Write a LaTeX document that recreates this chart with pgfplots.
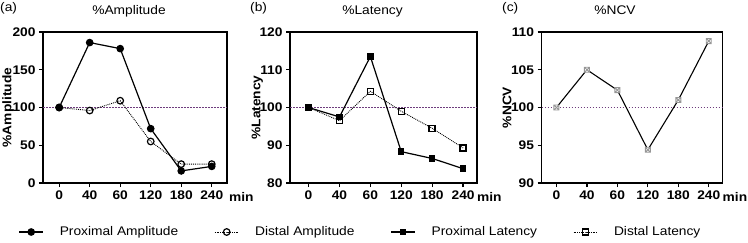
\documentclass[border=0pt]{standalone}
\usepackage{fontspec}
\setmainfont{Liberation Sans}[FakeStretch=1.1]
\usepackage{pgfplots}
\pgfplotsset{compat=1.18}
\definecolor{refline}{RGB}{110,60,125}
\definecolor{markgray}{RGB}{150,150,150}
\pgfdeclareplotmark{boxx}{%
  \pgfpathrectangle{\pgfqpoint{-\pgfplotmarksize}{-\pgfplotmarksize}}{\pgfqpoint{2\pgfplotmarksize}{2\pgfplotmarksize}}%
  \pgfpathmoveto{\pgfqpoint{-\pgfplotmarksize}{-\pgfplotmarksize}}%
  \pgfpathlineto{\pgfqpoint{\pgfplotmarksize}{\pgfplotmarksize}}%
  \pgfpathmoveto{\pgfqpoint{-\pgfplotmarksize}{\pgfplotmarksize}}%
  \pgfpathlineto{\pgfqpoint{\pgfplotmarksize}{-\pgfplotmarksize}}%
  \pgfusepathqfillstroke}
\pgfplotsset{
  panel/.style={
    scale only axis,
    height=151pt,
    anchor=south west,
    axis line style={line width=1.2pt},
    tick style={black, line width=1.2pt},
    tick align=outside,
    major tick length=4pt,
    xtick pos=bottom, ytick pos=left,
    xtick={0,1,2,3,4,5},
    xticklabels={0,40,60,120,180,240},
    /pgf/number format/assume math mode=true,
    ticklabel style={font=\fontsize{12.5}{14}\selectfont\bfseries},
    label style={font=\fontsize{12.5}{14}\selectfont\bfseries},
    title style={font=\fontsize{12.5}{14}\selectfont, at={(0.5,1)}, anchor=base, yshift=12pt},
    clip=false,
  },
  refstyle/.style={draw=refline, line width=1.3pt, dash pattern=on 1.6pt off 1.4pt},
  legend image code/.code={\draw[mark repeat=2,mark phase=2] plot coordinates {(0pt,0pt) (12pt,0pt) (24pt,0pt)};},
}
\begin{document}
\begin{tikzpicture}
\useasboundingbox (0pt,0pt) rectangle (748pt,242pt);
\node[anchor=base west, font=\fontsize{12.5}{14}\selectfont, inner sep=0pt] at (0pt,231pt) {(a)};
\node[anchor=base west, font=\fontsize{12.5}{14}\selectfont, inner sep=0pt] at (250pt,231pt) {(b)};
\node[anchor=base west, font=\fontsize{12.5}{14}\selectfont, inner sep=0pt] at (502pt,231pt) {(c)};

% (a)
\begin{axis}[panel, at={(43pt,59pt)}, width=184pt,
  xmin=-0.53, xmax=5.5, ymin=0, ymax=200, ytick={0,50,100,150,200},
  title={\%Amplitude}, title style={xshift=-6pt},
  ylabel={\%Amplitude}, ylabel style={at={(axis description cs:-0.19,0.5)}, anchor=center},
  legend columns=4,
  legend style={draw=none, fill=none, at={(axis description cs:1.7255,-0.3245)}, anchor=center,
    font=\fontsize{12.5}{14}\selectfont, inner sep=0pt,
    /tikz/every odd column/.append style={column sep=14pt},
    /tikz/every even column/.append style={column sep=34pt}},
  legend cell align=left,
]
\addplot[refstyle, forget plot] coordinates {(-0.53,100) (5.5,100)};
\addplot[black, line width=1.2pt, mark=*, mark size=3.2pt] coordinates {
(0,100) (1,186) (2,178) (3,72) (4,16) (5,22)};
\addlegendentry{Proximal Amplitude}
\addplot[black, densely dotted, line width=0.9pt, mark=o, mark size=3.3pt, mark options={solid, fill=white, line width=1.2pt}] coordinates {
(0,100) (1,96) (2,109) (3,55) (4,25) (5,25)};
\addlegendentry{Distal Amplitude}
\addlegendimage{black, line width=1.2pt, mark=square*, mark size=2.6pt}
\addlegendentry{Proximal Latency}
\addlegendimage{black, densely dotted, line width=0.9pt, mark=square, mark size=3pt, mark options={solid, fill=white, line width=1.4pt}}
\addlegendentry{Distal Latency}
\node[anchor=base west, font=\fontsize{12.5}{14}\selectfont\bfseries, inner sep=0pt] at (rel axis cs:1,0) [xshift=2pt, yshift=-18pt] {min};
\end{axis}

% (b)
\begin{axis}[panel, at={(290pt,59pt)}, width=187pt,
  xmin=-0.6, xmax=5.45, ymin=80, ymax=120, ytick={80,90,100,110,120},
  title={\%Latency}, title style={xshift=-11pt},
  ylabel={\%Latency}, ylabel style={at={(axis description cs:-0.175,0.5)}, anchor=center},
]
\addplot[refstyle] coordinates {(-0.6,100) (5.45,100)};
\addplot[black, line width=1.2pt, mark=square*, mark size=2.6pt] coordinates {
(0,100) (1,97.5) (2,113.5) (3,88.3) (4,86.5) (5,83.8)};
\addplot[black, densely dotted, line width=0.9pt, mark=square, mark size=3pt, mark options={solid, fill=white, line width=1.4pt}] coordinates {
(0,100) (1,96.5) (2,104.3) (3,99) (4,94.5) (5,89.3)};
\node[anchor=base west, font=\fontsize{12.5}{14}\selectfont\bfseries, inner sep=0pt] at (rel axis cs:1,0) [xshift=0pt, yshift=-18pt] {min};
\end{axis}

% (c)
\begin{axis}[panel, at={(541.5pt,59pt)}, width=181pt,
  xmin=-0.49, xmax=5.45, ymin=90, ymax=110, ytick={90,95,100,105,110},
  title={\%NCV}, title style={xshift=-17pt},
  ylabel={\%NCV}, ylabel style={at={(axis description cs:-0.19,0.5)}, anchor=center},
]
\addplot[refstyle] coordinates {(-0.49,100) (5.45,100)};
\addplot[draw=black, line width=1.1pt, mark=boxx, mark size=2.5pt, mark options={draw=markgray, fill=white, line width=0.9pt}] coordinates {
(0,100) (1,105) (2,102.3) (3,94.4) (4,101) (5,108.8)};
\node[anchor=base west, font=\fontsize{12.5}{14}\selectfont\bfseries, inner sep=0pt] at (rel axis cs:1,0) [xshift=0pt, yshift=-18pt] {min};
\end{axis}
\end{tikzpicture}
\end{document}
